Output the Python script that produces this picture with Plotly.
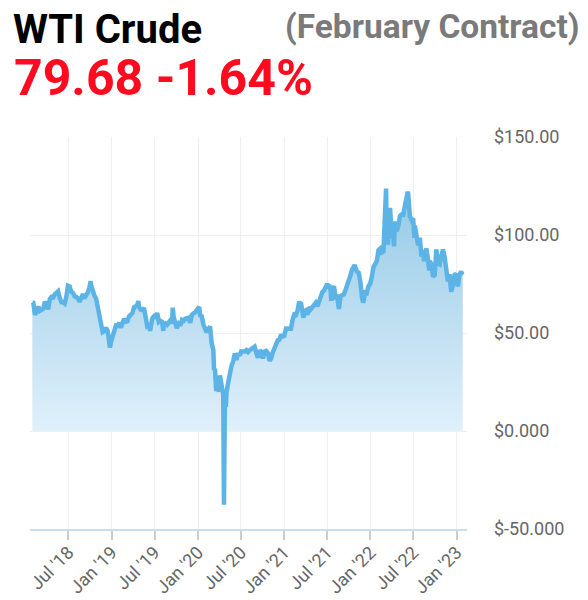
import plotly.graph_objects as go

# ---------------- data ----------------
dates = [
    "2018-01-29", "2018-02-02", "2018-02-09", "2018-02-16", "2018-02-23", "2018-03-02", "2018-03-09",
    "2018-03-16", "2018-03-23", "2018-03-29", "2018-04-06", "2018-04-13", "2018-04-20", "2018-04-27",
    "2018-05-04", "2018-05-11", "2018-05-18", "2018-05-25", "2018-06-01", "2018-06-08", "2018-06-15",
    "2018-06-22", "2018-06-29", "2018-07-06", "2018-07-13", "2018-07-20", "2018-07-27", "2018-08-03",
    "2018-08-10", "2018-08-17", "2018-08-24", "2018-08-31", "2018-09-07", "2018-09-14", "2018-09-21",
    "2018-09-28", "2018-10-03", "2018-10-05", "2018-10-12", "2018-10-19", "2018-10-26", "2018-11-02",
    "2018-11-09", "2018-11-16", "2018-11-23", "2018-11-30", "2018-12-07", "2018-12-14", "2018-12-21",
    "2018-12-24", "2018-12-28",
    "2019-01-04", "2019-01-11", "2019-01-18", "2019-01-25", "2019-02-01", "2019-02-08", "2019-02-15",
    "2019-02-22", "2019-03-01", "2019-03-08", "2019-03-15", "2019-03-22", "2019-03-29", "2019-04-05",
    "2019-04-12", "2019-04-18", "2019-04-23", "2019-04-26", "2019-05-03", "2019-05-10", "2019-05-17",
    "2019-05-24", "2019-05-31", "2019-06-07", "2019-06-12", "2019-06-14", "2019-06-21", "2019-06-28",
    "2019-07-05", "2019-07-12", "2019-07-19", "2019-07-26", "2019-08-02", "2019-08-07", "2019-08-09",
    "2019-08-16", "2019-08-23", "2019-08-30", "2019-09-06", "2019-09-13", "2019-09-16", "2019-09-20",
    "2019-09-27", "2019-10-03", "2019-10-04", "2019-10-11", "2019-10-18", "2019-10-25", "2019-11-01",
    "2019-11-08", "2019-11-15", "2019-11-22", "2019-11-29", "2019-12-06", "2019-12-13", "2019-12-20",
    "2019-12-27",
    "2020-01-03", "2020-01-06", "2020-01-10", "2020-01-17", "2020-01-24", "2020-01-31", "2020-02-07",
    "2020-02-14", "2020-02-21", "2020-02-28", "2020-03-06", "2020-03-09", "2020-03-13", "2020-03-18",
    "2020-03-20", "2020-03-27", "2020-03-30", "2020-04-03", "2020-04-09", "2020-04-17", "2020-04-20",
    "2020-04-21", "2020-04-24", "2020-04-28", "2020-05-01", "2020-05-08", "2020-05-15", "2020-05-22",
    "2020-05-29", "2020-06-05", "2020-06-12", "2020-06-19", "2020-06-26", "2020-07-02", "2020-07-10",
    "2020-07-17", "2020-07-24", "2020-07-31", "2020-08-07", "2020-08-14", "2020-08-21", "2020-08-28",
    "2020-09-04", "2020-09-11", "2020-09-18", "2020-09-25", "2020-10-02", "2020-10-09", "2020-10-16",
    "2020-10-23", "2020-10-30", "2020-11-06", "2020-11-13", "2020-11-20", "2020-11-27", "2020-12-04",
    "2020-12-11", "2020-12-18", "2020-12-24", "2020-12-31",
    "2021-01-08", "2021-01-15", "2021-01-22", "2021-01-29", "2021-02-05", "2021-02-12", "2021-02-19",
    "2021-02-26", "2021-03-05", "2021-03-08", "2021-03-12", "2021-03-19", "2021-03-23", "2021-03-26",
    "2021-04-01", "2021-04-09", "2021-04-16", "2021-04-23", "2021-04-30", "2021-05-07", "2021-05-14",
    "2021-05-21", "2021-05-28", "2021-06-04", "2021-06-11", "2021-06-18", "2021-06-25", "2021-07-02",
    "2021-07-06", "2021-07-09", "2021-07-16", "2021-07-19", "2021-07-23", "2021-07-30", "2021-08-06",
    "2021-08-13", "2021-08-20", "2021-08-27", "2021-09-03", "2021-09-10", "2021-09-17", "2021-09-24",
    "2021-10-01", "2021-10-08", "2021-10-15", "2021-10-22", "2021-10-26", "2021-10-29", "2021-11-05",
    "2021-11-12", "2021-11-19", "2021-11-26", "2021-12-01", "2021-12-03", "2021-12-10", "2021-12-17",
    "2021-12-23", "2021-12-31",
    "2022-01-07", "2022-01-14", "2022-01-21", "2022-01-28", "2022-02-04", "2022-02-11", "2022-02-18",
    "2022-02-25", "2022-03-01", "2022-03-04", "2022-03-08", "2022-03-10", "2022-03-11", "2022-03-16",
    "2022-03-18", "2022-03-25", "2022-04-01", "2022-04-08", "2022-04-11", "2022-04-14", "2022-04-22",
    "2022-04-29", "2022-05-06", "2022-05-13", "2022-05-20", "2022-05-27", "2022-06-03", "2022-06-08",
    "2022-06-10", "2022-06-17", "2022-06-24", "2022-07-01", "2022-07-06", "2022-07-08", "2022-07-15",
    "2022-07-22", "2022-07-29", "2022-08-05", "2022-08-12", "2022-08-16", "2022-08-19", "2022-08-26",
    "2022-09-02", "2022-09-07", "2022-09-09", "2022-09-16", "2022-09-23", "2022-09-30", "2022-10-07",
    "2022-10-14", "2022-10-21", "2022-10-28", "2022-11-04", "2022-11-11", "2022-11-18", "2022-11-25",
    "2022-12-02", "2022-12-09", "2022-12-16", "2022-12-23", "2022-12-30",
    "2023-01-06", "2023-01-13", "2023-01-20", "2023-01-24", "2023-01-27",
]
prices = [
    65.56, 65.45, 59.20, 61.68, 63.55, 61.25, 62.04,
    62.34, 65.88, 64.94, 62.06, 67.39, 68.38, 68.10,
    69.72, 70.70, 71.28, 67.88, 65.81, 65.74, 65.06,
    68.58, 74.15, 73.80, 71.01, 70.46, 68.69, 68.49,
    67.63, 65.91, 68.72, 69.80, 67.75, 68.99, 70.78,
    73.25, 76.41, 74.34, 71.34, 69.12, 67.59, 63.14,
    60.19, 56.46, 50.42, 50.93, 52.61, 51.20, 45.59,
    42.53, 45.33,
    47.96, 51.59, 53.80, 53.69, 55.26, 52.72, 55.59,
    57.26, 55.80, 56.07, 58.52, 59.04, 60.14, 63.08,
    63.89, 64.00, 66.30, 63.30, 61.94, 61.66, 62.76,
    58.63, 53.50, 53.99, 51.14, 52.51, 57.43, 58.47,
    57.51, 60.21, 55.63, 56.20, 55.66, 51.09, 54.50,
    54.87, 54.17, 55.10, 56.52, 54.85, 62.90, 58.09,
    55.91, 52.45, 52.81, 54.70, 53.78, 56.66, 56.20,
    57.24, 57.72, 57.77, 55.17, 59.20, 60.07, 60.44,
    61.72,
    63.05, 63.27, 59.04, 58.54, 54.19, 51.56, 50.32,
    52.05, 53.38, 44.76, 41.28, 31.13, 31.73, 20.37,
    22.43, 21.51, 20.09, 28.34, 22.76, 18.27, -37.63,
    10.01, 16.94, 12.34, 19.78, 24.74, 29.43, 33.25,
    35.49, 39.55, 36.26, 39.75, 38.49, 40.65, 40.55,
    40.59, 41.29, 40.27, 41.22, 42.01, 42.34, 42.97,
    39.77, 37.33, 41.11, 40.25, 37.05, 40.60, 40.88,
    39.85, 35.79, 37.14, 40.13, 42.15, 45.53, 46.26,
    46.57, 49.10, 48.23, 48.52,
    52.24, 52.36, 52.27, 52.20, 56.85, 59.47, 59.24,
    61.50, 66.09, 65.05, 65.61, 61.42, 57.76, 60.97,
    61.45, 59.32, 63.13, 62.14, 63.58, 64.90, 65.37,
    63.58, 66.32, 69.62, 70.91, 71.64, 74.05, 75.16,
    73.37, 74.56, 71.81, 66.42, 72.07, 73.95, 68.28,
    68.44, 62.32, 68.74, 69.29, 69.72, 71.97, 73.98,
    75.88, 79.35, 82.28, 83.76, 84.65, 83.57, 81.27,
    80.79, 76.10, 68.15, 65.57, 66.26, 71.67, 70.86,
    73.79, 75.21,
    78.90, 83.82, 85.14, 86.82, 92.31, 93.10, 91.07,
    91.59, 103.41, 115.68, 123.70, 106.02, 109.33, 95.04,
    104.70, 113.90, 99.27, 98.26, 94.29, 106.95, 102.07,
    104.69, 109.77, 110.49, 110.28, 115.07, 118.87, 122.11,
    120.67, 109.56, 107.62, 108.43, 98.53, 104.79, 97.59,
    94.70, 98.62, 89.01, 92.09, 86.53, 90.77, 93.06,
    86.87, 81.94, 86.79, 85.11, 78.74, 79.49, 92.64,
    85.61, 85.05, 87.90, 92.61, 88.96, 80.08, 76.28,
    79.98, 71.02, 74.29, 79.56, 80.26,
    73.77, 79.86, 81.31, 80.13, 79.68,
]

tick_dates = ["2018-07-01", "2019-01-01", "2019-07-01", "2020-01-01", "2020-07-01",
              "2021-01-01", "2021-07-01", "2022-01-01", "2022-07-01", "2023-01-01"]
tick_labels = ["Jul '18", "Jan '19", "Jul '19", "Jan '20", "Jul '20",
               "Jan '21", "Jul '21", "Jan '22", "Jul '22", "Jan '23"]
y_ticks = [-50, 0, 50, 100, 150]
y_tick_labels = ["$-50.000", "$0.000", "$50.00", "$100.00", "$150.00"]

title_text = "WTI Crude"
subtitle_text = "(February Contract)"
quote_text = "79.68 -1.64%"

# ---------------- figure ----------------
FONT = "Roboto, 'Noto Sans', sans-serif"
OFF = 8                      # page body margin added by the browser
W, H = 588 - OFF, 600 - OFF  # figure size so it fits the window
# plot area in screen pixels: x 30..467, y 137..529
L = 30 - OFF
T = 137 - OFF
R = W - (467 - OFF)
B = H - (529 - OFF)
PW, PH = W - L - R, H - T - B


def px_x(px):
    return (px - OFF - L) / PW


def px_y(py):
    return (H - B - (py - OFF)) / PH


fig = go.Figure()
fig.add_trace(go.Scatter(
    x=dates, y=prices, mode="lines",
    line=dict(color="#5CB3E6", width=4.5),
    fill="tozeroy",
    fillgradient=dict(
        type="vertical",
        colorscale=[[0, "rgb(224,240,251)"], [1, "rgb(148,201,229)"]],
        start=0, stop=125,
    ),
    hoverinfo="skip",
    showlegend=False,
))

fig.update_layout(
    width=W, height=H,
    margin=dict(l=L, r=R, t=T, b=B, autoexpand=False),
    paper_bgcolor="white", plot_bgcolor="white",
    font=dict(family=FONT, color="#666666"),
    xaxis=dict(
        type="date",
        range=["2018-01-19", "2023-02-14"],
        tickvals=tick_dates, ticktext=tick_labels,
        tickangle=-45,
        tickfont=dict(size=18, color="#666666"),
        showgrid=True, gridcolor="#EFEFEF", gridwidth=1,
        ticks="outside", ticklen=9, tickwidth=1.5, tickcolor="#CCCCCC",
        ticklabelstandoff=-5,
        showline=True, linecolor="#C7DDF0", linewidth=2,
        zeroline=False, fixedrange=True, automargin=False,
    ),
    yaxis=dict(
        side="right",
        range=[-50, 150],
        tickvals=y_ticks, ticktext=y_tick_labels,
        tickfont=dict(size=18, color="#666666"),
        showgrid=True, gridcolor="#EFEFEF", gridwidth=1,
        zeroline=False, showline=False,
        ticks="", ticklabelstandoff=26,
        fixedrange=True, automargin=False,
    ),
    annotations=[
        dict(text="<b>" + title_text + "</b>", xref="paper", yref="paper",
             x=px_x(11), y=px_y(30), xanchor="left", yanchor="middle",
             showarrow=False, font=dict(family=FONT, size=40, color="#000000")),
        dict(text="<b>" + subtitle_text + "</b>", xref="paper", yref="paper",
             x=px_x(582), y=px_y(26.5), xanchor="right", yanchor="middle",
             showarrow=False, font=dict(family=FONT, size=33.5, color="#7A7A7A")),
        dict(text="<b>" + quote_text + "</b>", xref="paper", yref="paper",
             x=px_x(12), y=px_y(77.5), xanchor="left", yanchor="middle",
             showarrow=False, font=dict(family=FONT, size=50, color="#FF0A1E")),
    ],
)

fig.write_html("out.html")
